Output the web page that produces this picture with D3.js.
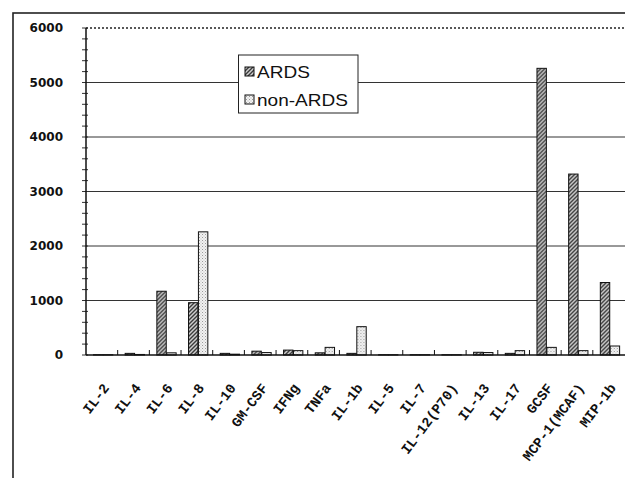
<!DOCTYPE html>
<html><head><meta charset="utf-8">
<script src="https://cdn.jsdelivr.net/npm/d3@7"></script>
<style>body{margin:0;background:#fff}svg{display:block}</style>
</head><body>
<script>
const categories = ["IL-2","IL-4","IL-6","IL-8","IL-10","GM-CSF","IFNg","TNFa","IL-1b","IL-5","IL-7","IL-12(P70)","IL-13","IL-17","GCSF","MCP-1(MCAF)","MIP-1b"];
const seriesNames = ["ARDS","non-ARDS"];
const ardsValues    = [5, 30, 1170, 960, 30, 70, 90, 40, 30, 5, 5, 5, 50, 30, 5260, 3320, 1330];
const nonArdsValues = [5, 10, 40, 2260, 15, 45, 80, 140, 520, 5, 5, 5, 45, 80, 140, 80, 165];
const yTicks = [0, 1000, 2000, 3000, 4000, 5000, 6000];

(function(){
const W = 625, H = 478;
const svg = d3.select("body").append("svg").attr("width", W).attr("height", H);
const defs = svg.append("defs");

const p1 = defs.append("pattern").attr("id","pA").attr("patternUnits","userSpaceOnUse").attr("width",4).attr("height",4);
p1.append("rect").attr("width",4).attr("height",4).attr("fill","#d0d0d0");
p1.append("path").attr("d","M-1,1 l2,-2 M0,4 l4,-4 M3,5 l2,-2").attr("stroke","#3a3a3a").attr("stroke-width",1.4);
const p2 = defs.append("pattern").attr("id","pB").attr("patternUnits","userSpaceOnUse").attr("width",3).attr("height",3);
p2.append("rect").attr("width",3).attr("height",3).attr("fill","#f2f2f2");
p2.append("rect").attr("x",0).attr("y",0).attr("width",1).attr("height",1).attr("fill","#999");
p2.append("rect").attr("x",1.5).attr("y",1.5).attr("width",1).attr("height",1).attr("fill","#bbb");

const pl = 86, pr = 624.5, pt = 28, pb = 355;
const x = d3.scaleBand().domain(categories).range([pl, pr]).padding(0);
const xi = d3.scaleBand().domain(seriesNames).range([7, 26.8]).padding(0);
const y = d3.scaleLinear().domain([0, 6000]).range([pb, pt]);

svg.append("rect").attr("x",13).attr("y",13).attr("width",W).attr("height",H)
  .attr("fill","none").attr("stroke","#222").attr("stroke-width",1.6);

svg.append("g").selectAll("line").data(yTicks.filter(d => d > 0 && d < 6000)).join("line")
  .attr("x1", pl).attr("x2", W).attr("y1", d => y(d)).attr("y2", d => y(d))
  .attr("stroke","#333").attr("stroke-width",1);
svg.append("line").attr("x1", pl).attr("x2", W).attr("y1", y(6000)).attr("y2", y(6000))
  .attr("stroke","#222").attr("stroke-width",1.5).attr("stroke-dasharray","2,2");

const rows = categories.map((c, i) => ({c, vals: [ardsValues[i], nonArdsValues[i]]}));
const g = svg.append("g").selectAll("g").data(rows).join("g")
  .attr("transform", d => `translate(${x(d.c)},0)`);
g.selectAll("rect").data(d => d.vals.map((v, k) => ({k, v}))).join("rect")
  .attr("x", d => xi(seriesNames[d.k]) + 0.5)
  .attr("width", xi.bandwidth() - 0.5)
  .attr("y", d => y(d.v))
  .attr("height", d => y(0) - y(d.v))
  .attr("fill", d => d.k === 0 ? "url(#pA)" : "url(#pB)")
  .attr("stroke","#111").attr("stroke-width",1);

svg.append("g").selectAll("line").data(d3.range(0, 6001, 200)).join("line")
  .attr("x1", pl - 4).attr("x2", pl + 2).attr("y1", d => y(d)).attr("y2", d => y(d))
  .attr("stroke","#333").attr("stroke-width",1);
svg.append("line").attr("x1", pl).attr("x2", pl).attr("y1", pt).attr("y2", pb)
  .attr("stroke","#111").attr("stroke-width",1.5);
svg.append("g").selectAll("text").data(yTicks).join("text")
  .attr("x", 63).attr("y", d => y(d)).attr("dy","0.35em")
  .attr("text-anchor","end").attr("font-family","DejaVu Sans").attr("font-weight","bold")
  .attr("font-size",12).attr("fill","#111").text(d => d);

svg.append("line").attr("x1", pl).attr("x2", W).attr("y1", pb).attr("y2", pb)
  .attr("stroke","#111").attr("stroke-width",1.5);
svg.append("g").selectAll("line").data(categories.slice(1)).join("line")
  .attr("x1", d => x(d)).attr("x2", d => x(d)).attr("y1", pb).attr("y2", pb - 5)
  .attr("stroke","#111").attr("stroke-width",1);
svg.append("g").selectAll("text").data(categories).join("text")
  .attr("transform", d => `translate(${x(d) + x.bandwidth()/2 + 8},${pb + 33}) rotate(-53)`)
  .attr("text-anchor","end").attr("font-family","Liberation Mono").attr("font-weight","bold")
  .attr("font-size",14).attr("fill","#111").text(d => d);

const lg = svg.append("g");
lg.append("rect").attr("x",238.5).attr("y",55).attr("width",119.5).attr("height",58)
  .attr("fill","#fff").attr("stroke","#222").attr("stroke-width",1);
seriesNames.forEach((s, k) => {
  const yy = 67 + k * 28;
  lg.append("rect").attr("x",245).attr("y",yy).attr("width",9).attr("height",9)
    .attr("fill", k === 0 ? "url(#pA)" : "url(#pB)").attr("stroke","#111").attr("stroke-width",1);
  lg.append("text").attr("transform", `translate(257,${yy + 10.5}) scale(1.12,1)`)
    .attr("font-family","Liberation Sans").attr("font-size",17).attr("fill","#111").text(s);
});
})();
</script>
</body></html>
